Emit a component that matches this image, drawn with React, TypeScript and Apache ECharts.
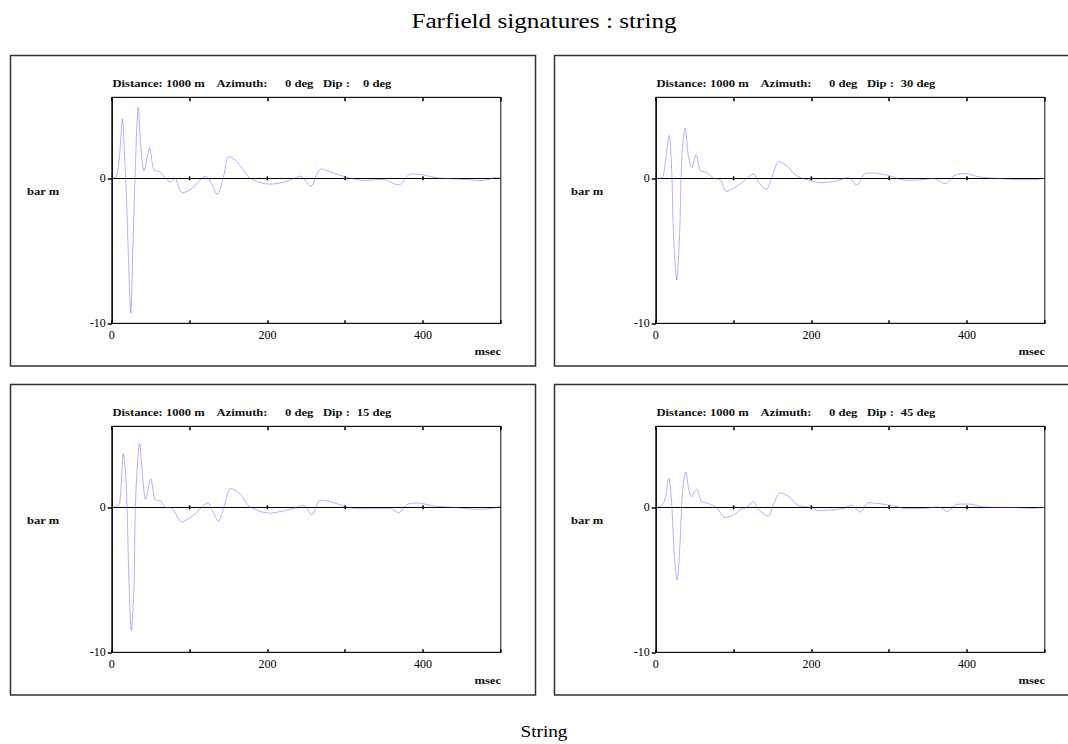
import React, { useEffect, useRef } from "react";
import * as echarts from "echarts";

// ---- data ----
const TITLE = "Farfield signatures : string";
const FOOTER = "String";
const Y_UNIT = "bar m";
const X_UNIT = "msec";
const DISTANCE = 1000;
const AZIMUTH = 0;
const DIPS = [0, 30, 15, 45]; // top-left, top-right, bottom-left, bottom-right
const X_TICKS_ZERO = [100, 200, 300, 400];

const T_DIP0 = [0, 6, 10, 13.7, 16, 19, 22, 24.4, 27, 30, 34, 37, 41.5, 45, 48.7, 54, 62, 69, 75.6, 81, 90.6, 103, 120.5, 127, 135.5, 144, 150.4, 159, 167.5, 178, 201.7, 223, 231.7, 242.6, 255.6, 268.7, 286, 303.5, 325, 347, 368.7, 384, 399, 416.5, 451, 477, 494.8, 500];
const V_DIP0 = [0, 0.1, 1.6, 4.1, 2.0, -1.5, -6.5, -9.3, -5.0, 0.3, 4.9, 2.4, 0.5, 1.3, 2.1, 0.6, 0.45, 0, -0.25, 0, -1.0, -0.7, 0.15, -0.25, -1.1, 0.2, 1.5, 1.25, 0.7, 0, -0.4, -0.25, -0.05, 0.15, -0.55, 0.65, 0.35, 0.05, -0.15, -0.07, -0.45, 0.3, 0.25, 0.05, -0.07, -0.15, 0.07, 0];

const T_DIP30 = [0, 8, 12, 17.2, 20.6, 22.7, 27, 30.5, 33.5, 37.8, 42, 46.4, 51.9, 57, 65.7, 74.2, 82.8, 91.4, 104.3, 115, 125.8, 132, 142, 149.4, 158, 168.7, 181.5, 198.7, 211.6, 228.8, 237, 247.6, 258.3, 269, 277.6, 297, 309.8, 322.6, 344, 356.8, 371.8, 384.7, 397.6, 416.8, 438, 468, 485, 500];
const V_DIP30 = [0, 0.05, 1.0, 2.95, 0.35, -3.8, -7.0, -4.0, 1.5, 3.45, 1.5, 0.75, 1.65, 0.55, 0.4, 0, -0.1, -0.9, -0.55, -0.1, 0.3, -0.25, -0.75, 0.1, 1.15, 0.85, 0.15, -0.15, -0.3, -0.23, -0.09, 0.05, -0.45, 0.32, 0.37, 0.23, 0, -0.14, -0.09, 0, -0.37, 0.23, 0.32, 0.09, 0, -0.09, -0.09, 0];

const T_DIP15 = [0, 6, 10.2, 14.9, 18.7, 22, 25.1, 28.5, 30.6, 35.7, 40, 43.4, 50.2, 55.3, 62.6, 69, 77.4, 90.2, 105, 123.4, 128.5, 137, 144.7, 153, 164.7, 177.4, 203, 222, 233.7, 246.5, 257, 268, 280.8, 297.8, 314.9, 336, 357.7, 368.3, 381, 394, 413, 439, 473, 490, 500];
const V_DIP15 = [0, 0.05, 0.3, 3.7, 1.4, -5.0, -8.5, -5.5, 0.5, 4.4, 1.9, 0.55, 1.95, 0.55, 0.45, 0, -0.07, -1.0, -0.55, 0.3, -0.15, -0.95, 0.15, 1.3, 0.95, 0.05, -0.4, -0.23, -0.07, 0.15, -0.5, 0.5, 0.4, 0.1, -0.1, -0.07, -0.07, -0.37, 0.23, 0.3, 0.1, 0, -0.14, -0.05, 0.05];

const T_DIP45 = [0, 6, 11.6, 16.7, 20.2, 23.6, 27.5, 30.9, 34.3, 38.6, 42.5, 45.9, 52.4, 58.8, 67.4, 78, 88.8, 99.6, 108, 116.7, 125.3, 131.8, 144.6, 151, 159.7, 170.4, 183, 199.6, 209, 226, 241, 252, 262.7, 273.4, 288, 305.6, 322.7, 344, 363.5, 374, 387, 402, 421.5, 464, 481.5, 500];
const V_DIP45 = [0, 0.05, 0.5, 2.0, 0.5, -3.2, -5.0, -2.7, 1.0, 2.45, 1.2, 0.75, 1.25, 0.4, 0.28, 0, -0.7, -0.55, -0.18, 0, 0.4, -0.15, -0.6, 0.15, 1.0, 0.75, 0.15, 0, -0.23, -0.18, -0.09, 0.14, -0.32, 0.32, 0.25, 0.09, -0.09, -0.07, 0.02, -0.28, 0.2, 0.23, 0.02, -0.02, -0.07, 0];

const TIMES = [T_DIP0, T_DIP30, T_DIP15, T_DIP45];
const VALUES = [V_DIP0, V_DIP30, V_DIP15, V_DIP45];

// ---- layout ----
const FONT = '"Liberation Serif", "Times New Roman", serif';
const PANEL_DX = [0, 544, 0, 544];
const PANEL_DY = [0, 0, 329, 329];
const STRETCH = 1.2;

export default function App() {
  const ref = useRef<HTMLDivElement>(null);

  useEffect(() => {
    if (!ref.current) return;
    const chart = echarts.init(ref.current, null, { renderer: "svg" });

    const grids: any[] = [];
    const xAxes: any[] = [];
    const yAxes: any[] = [];
    const series: any[] = [];
    const graphics: any[] = [];

    graphics.push({
      type: "text",
      x: 544,
      y: 21,
      scaleX: STRETCH,
      style: { text: TITLE, fontFamily: FONT, fontSize: 21, fill: "#000", align: "center", verticalAlign: "middle" },
    });
    graphics.push({
      type: "text",
      x: 544,
      y: 732,
      scaleX: STRETCH,
      style: { text: FOOTER, fontFamily: FONT, fontSize: 16, fill: "#000", align: "center", verticalAlign: "middle" },
    });

    for (let i = 0; i < 4; i++) {
      const dx = PANEL_DX[i];
      const dy = PANEL_DY[i];
      grids.push({
        left: 111.8 + dx,
        top: 97.3 + dy,
        width: 389,
        height: 226,
        show: true,
        borderColor: "#111",
        borderWidth: 1,
        backgroundColor: "transparent",
        containLabel: false,
      });
      xAxes.push({
        type: "value",
        gridIndex: i,
        position: "bottom",
        min: 0,
        max: 500,
        interval: 100,
        axisLine: { show: true, onZero: false, lineStyle: { color: "#111", width: 1 } },
        axisTick: { show: true, inside: true, length: 3, lineStyle: { color: "#000", width: 1.5 } },
        axisLabel: {
          formatter: (v: number) => (v % 200 === 0 && v < 500 ? String(v) : ""),
          fontFamily: FONT,
          fontSize: 12,
          color: "#000",
          margin: 6,
        },
        splitLine: { show: false },
      });
      xAxes.push({
        type: "value",
        gridIndex: i,
        position: "top",
        min: 0,
        max: 500,
        interval: 100,
        axisLine: { show: true, onZero: false, lineStyle: { color: "#111", width: 1 } },
        axisTick: { show: true, inside: true, length: 4, lineStyle: { color: "#000", width: 1.5 } },
        axisLabel: { show: false },
        splitLine: { show: false },
      });
      yAxes.push({
        type: "value",
        gridIndex: i,
        min: -10,
        max: 5.59,
        interval: 10,
        axisLine: { show: true, onZero: false, lineStyle: { color: "#111", width: 1 } },
        axisTick: { show: true, inside: false, length: 4, lineStyle: { color: "#000", width: 1.5 } },
        axisLabel: {
          fontFamily: FONT,
          fontSize: 12,
          color: "#000",
          margin: 6,
          showMaxLabel: false,
          formatter: (v: number) => (v % 10 === 0 ? String(v) : ""),
        },
        splitLine: { show: true, lineStyle: { color: "#000", width: 1.2 } },
      });
      const t = TIMES[i];
      const v = VALUES[i];
      series.push({
        type: "line",
        xAxisIndex: 2 * i,
        yAxisIndex: i,
        data: t.map((tt, k) => [tt, v[k]]),
        symbol: "none",
        showSymbol: false,
        smooth: 0.3,
        lineStyle: { color: "#4a4aff", width: 1, opacity: 0.42 },
        z: 3,
        silent: true,
      });
      series.push({
        type: "custom",
        xAxisIndex: 2 * i,
        yAxisIndex: i,
        data: X_TICKS_ZERO.map((x) => [x, 0]),
        renderItem: (params: any, api: any) => {
          const p = api.coord([api.value(0), api.value(1)]);
          return {
            type: "line",
            shape: { x1: p[0], y1: p[1] - 2, x2: p[0], y2: p[1] + 2 },
            style: { stroke: "#000", lineWidth: 1.5 },
          };
        },
        z: 4,
        silent: true,
      });

      // outer box
      graphics.push({
        type: "rect",
        shape: { x: 10.5 + dx, y: 55.5 + dy, width: dx > 0 ? 540 : 525, height: 310.5 },
        style: { fill: "none", stroke: "#333", lineWidth: 1.5 },
        silent: true,
      });
      // header texts
      const hy = 84 + dy;
      const hs = {
        fontFamily: FONT,
        fontSize: 10.5,
        fontWeight: "bold",
        fill: "#111",
        align: "left",
        verticalAlign: "middle",
      };
      graphics.push({ type: "text", x: 112.5 + dx, y: hy, scaleX: STRETCH, style: { ...hs, text: `Distance: ${DISTANCE} m` } });
      graphics.push({ type: "text", x: 216.5 + dx, y: hy, scaleX: STRETCH, style: { ...hs, text: "Azimuth:" } });
      graphics.push({ type: "text", x: 285 + dx, y: hy, scaleX: STRETCH, style: { ...hs, text: `${AZIMUTH} deg` } });
      graphics.push({ type: "text", x: 323 + dx, y: hy, scaleX: STRETCH, style: { ...hs, text: "Dip :" } });
      const dipStr = String(DIPS[i]);
      graphics.push({
        type: "text",
        x: 363 - (dipStr.length - 1) * 6.3 + dx,
        y: hy,
        scaleX: STRETCH,
        style: { ...hs, text: `${dipStr} deg` },
      });
      // units
      graphics.push({ type: "text", x: 27 + dx, y: 192 + dy, scaleX: STRETCH, style: { ...hs, text: Y_UNIT } });
      graphics.push({
        type: "text",
        x: 501 + dx,
        y: 352 + dy,
        scaleX: STRETCH,
        style: { ...hs, align: "right", text: X_UNIT },
      });
    }

    chart.setOption({
      animation: false,
      backgroundColor: "#fff",
      grid: grids,
      xAxis: xAxes,
      yAxis: yAxes,
      series,
      graphic: graphics,
    });

    return () => chart.dispose();
  }, []);

  return (
    <div
      ref={ref}
      style={{ position: "absolute", left: 0, top: 0, width: 1068, height: 744 }}
    />
  );
}
